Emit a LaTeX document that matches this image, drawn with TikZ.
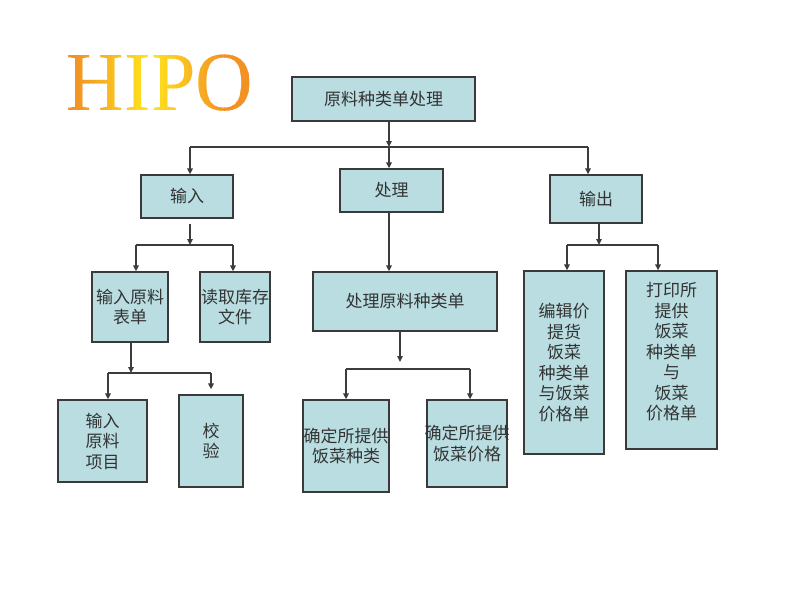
\documentclass[tikz,border=0pt]{standalone}
\usepackage{fontspec}
\setmainfont{Liberation Serif}
\newfontfamily\cjk{Noto Sans CJK SC}
\usetikzlibrary{arrows.meta}
\definecolor{boxfill}{RGB}{185,221,225}
\definecolor{boxline}{RGB}{58,58,58}
\definecolor{conn}{RGB}{60,60,60}
\definecolor{hipoorange}{RGB}{242,146,36}
\definecolor{hipoyellow}{RGB}{255,230,30}
\begin{document}
\begin{tikzpicture}[x=1pt,y=-1pt,
  box/.style={draw=boxline, line width=1.3pt, fill=boxfill, inner sep=0pt,
    align=center, font=\cjk\fontsize{17}{20.5}\selectfont, text=black!80},
  conn/.style={draw=conn, line width=1.4pt},
  arr/.style={conn, -{Triangle[length=6pt,width=5.5pt]}},
  title/.style={inner sep=0pt, anchor=base, font=\fontsize{84}{84}\selectfont, xscale=0.95}]
\useasboundingbox (0,0) rectangle (800,600);
\fill[white] (0,0) rectangle (800,600);
% title drawn in vertical strips to give a horizontal gradient
\foreach \i in {0,...,49} {
  \pgfmathsetmacro{\xa}{60+4*\i}
  \pgfmathsetmacro{\xb}{\xa+4.4}
  \pgfmathsetmacro{\tt}{min(100,100*abs(\xa+2-150)/75)}
  \begin{scope}
    \clip (\xa,40) rectangle (\xb,125);
    \node[title, text=hipoorange!\tt!hipoyellow] (hipo\i) at (160,110) {HIPO};
  \end{scope}
}
% boxes
\node[box, minimum width=183pt, minimum height=44pt] (top) at (383.5,99) {原料种类单处理};
\node[box, minimum width=92pt, minimum height=43pt] (in) at (187,196.5) {输入};
\node[box, minimum width=103pt, minimum height=43pt] (proc) at (391.5,190.5) {处理};
\node[box, minimum width=92pt, minimum height=48pt] (out) at (596,199) {输出};
\node[box, minimum width=76pt, minimum height=70pt] (inA) at (130,307) {输入原料\\表单};
\node[box, minimum width=70pt, minimum height=70pt] (inB) at (235,307) {读取库存\\文件};
\node[box, minimum width=184pt, minimum height=59pt] (procA) at (405,301.5) {处理原料种类单};
\node[box, minimum width=80pt, minimum height=183pt] (outA) at (564,362.5) {编辑价\\提货\\饭菜\\种类单\\与饭菜\\价格单};
\node[box, minimum width=91pt, minimum height=178pt] (outB) at (671.5,360) {};
\node[align=center, font=\cjk\fontsize{17}{20.5}\selectfont, text=black!80] (outBt) at (671.5,352) {打印所\\提供\\饭菜\\种类单\\与\\饭菜\\价格单};
\node[box, minimum width=89pt, minimum height=82pt] (inA1) at (102.5,441) {输入\\原料\\项目};
\node[box, minimum width=64pt, minimum height=92pt] (inA2) at (211,441) {校\\验};
\node[box, minimum width=86pt, minimum height=92pt] (pA1) at (346,446) {\makebox[0pt]{确定所提供}\\\makebox[0pt]{饭菜种类}};
\node[box, minimum width=80pt, minimum height=87pt] (pA2) at (467,443.5) {\makebox[0pt]{确定所提供}\\\makebox[0pt]{饭菜价格}};
% junction coordinates
\coordinate (j0) at (389,147);
\coordinate (j0L) at (190,147);
\coordinate (j0R) at (588,147);
\coordinate (j1) at (190,245);
\coordinate (j1L) at (136,245);
\coordinate (j1R) at (233,245);
\coordinate (j2) at (599,245);
\coordinate (j2L) at (567,245);
\coordinate (j2R) at (658,245);
\coordinate (j3) at (131,373);
\coordinate (j3L) at (108,373);
\coordinate (j3R) at (211,373);
\coordinate (j4) at (400,369);
\coordinate (j4L) at (346,369);
\coordinate (j4R) at (470,369);
% connectors level 1
\draw[arr] (top.south -| j0) -- (j0);
\draw[conn] (j0L) -- (j0R);
\draw[arr] (j0L) -- (j0L |- in.north);
\draw[arr] (j0) -- (j0 |- proc.north);
\draw[arr] (j0R) -- (j0R |- out.north);
% input
\draw[arr] ([yshift=-5pt]in.south -| j1) -- (j1);
\draw[conn] (j1L) -- (j1R);
\draw[arr] (j1L) -- (j1L |- inA.north);
\draw[arr] (j1R) -- (j1R |- inB.north);
% process
\draw[arr] (proc.south -| j0) -- (j0 |- procA.north);
% output
\draw[arr] (out.south -| j2) -- (j2);
\draw[conn] (j2L) -- (j2R);
\draw[arr] (j2L) -- (j2L |- outA.north);
\draw[arr] (j2R) -- (j2R |- outB.north);
% input sub
\draw[arr] (inA.south -| j3) -- (j3);
\draw[conn] (j3L) -- (j3R);
\draw[arr] (j3L) -- (j3L |- inA1.north);
\draw[arr] (j3R) -- ([yshift=5pt]j3R |- inA2.north);
% process sub
\draw[arr] (procA.south -| j4) -- ([yshift=7pt]j4);
\draw[conn] (j4L) -- (j4R);
\draw[arr] (j4L) -- (j4L |- pA1.north);
\draw[arr] (j4R) -- (j4R |- pA2.north);
\end{tikzpicture}
\end{document}
